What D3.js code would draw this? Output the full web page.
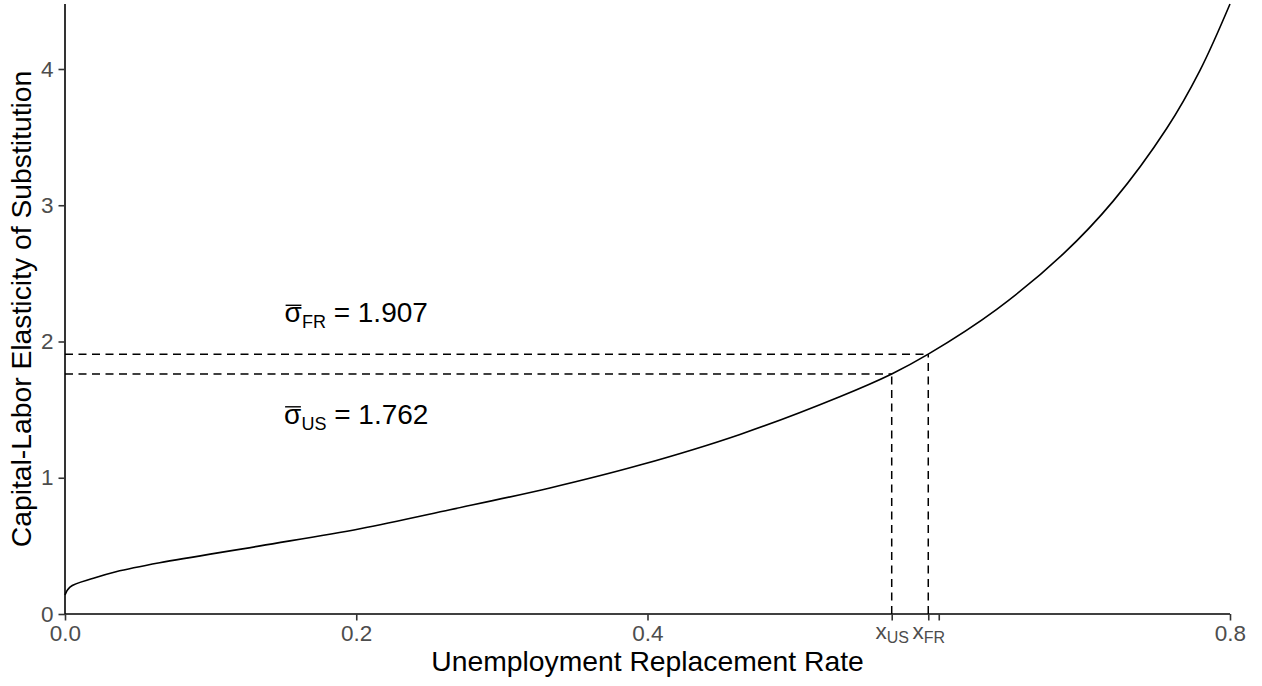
<!DOCTYPE html>
<html>
<head>
<meta charset="utf-8">
<script src="https://cdn.jsdelivr.net/npm/d3@7"></script>
<style>
  html, body { margin: 0; padding: 0; background: #ffffff; }
  svg { display: block; font-family: "Liberation Sans", Arial, sans-serif; }
</style>
</head>
<body>
<svg id="chart" width="1262" height="686"></svg>
<script>
// Elasticity of substitution as a function of the replacement rate
const rate  = [0, 0.0034, 0.0195, 0.035, 0.065, 0.134, 0.2026, 0.2644, 0.333, 0.3948, 0.4635, 0.532, 0.5677, 0.5928, 0.6398, 0.6855, 0.7199, 0.7565, 0.7794, 0.8];
const sigma = [0.14, 0.198, 0.262, 0.310, 0.376, 0.500, 0.626, 0.765, 0.925, 1.093, 1.318, 1.595, 1.762, 1.907, 2.236, 2.643, 3.032, 3.563, 3.99, 4.477];

// Country benchmarks
const countries = ["US", "FR"];
const countryRate  = [0.5677, 0.5928];
const countrySigma = [1.762, 1.907];
const labelOffset  = [-0.3, 0.3];

// Axis ticks
const xTicks = [0, 0.2, 0.4, 0.5677, 0.5928, 0.6, 0.8];
const xTickLabels = ["0.0", "0.2", "0.4", "x|US", "x|FR", "", "0.8"];
const yTicks = [0, 1, 2, 3, 4];

const svg = d3.select("#chart");
const x = d3.scaleLinear().domain([0, 0.8]).range([65, 1230]);
const y = d3.scaleLinear().domain([0, 4.477]).range([614, 4]);

// Dashed guides to each benchmark
const guides = svg.append("g")
  .attr("fill", "none").attr("stroke", "#000").attr("stroke-width", 1.5)
  .attr("stroke-dasharray", "8,5.5");
countries.forEach((c, i) => {
  guides.append("line")
    .attr("x1", x(0)).attr("x2", x(countryRate[i]))
    .attr("y1", y(countrySigma[i])).attr("y2", y(countrySigma[i]));
  guides.append("line")
    .attr("x1", x(countryRate[i])).attr("x2", x(countryRate[i]))
    .attr("y1", y(0)).attr("y2", y(countrySigma[i]));
});

// Curve
const pts = rate.map((r, i) => [r, sigma[i]]);
svg.append("path")
  .datum(pts)
  .attr("fill", "none").attr("stroke", "#000").attr("stroke-width", 1.6)
  .attr("d", d3.line().x(d => x(d[0])).y(d => y(d[1])).curve(d3.curveCatmullRom.alpha(0.5)));

// Axes
const xAxis = svg.append("g")
  .attr("transform", `translate(0,${y(0)})`)
  .call(d3.axisBottom(x).tickValues(xTicks).tickSize(6.5).tickPadding(5)
        .tickFormat((d, i) => xTickLabels[i]));
const yAxis = svg.append("g")
  .attr("transform", `translate(${x(0)},0)`)
  .call(d3.axisLeft(y).tickValues(yTicks).tickSize(6.5).tickPadding(5)
        .tickFormat(d3.format("d")));

[xAxis, yAxis].forEach(a => {
  a.select(".domain").attr("stroke", "#000").attr("stroke-width", 1.6);
  a.selectAll(".tick line").attr("stroke", "#333").attr("stroke-width", 1.6);
  a.selectAll(".tick text").attr("fill", "#4d4d4d").attr("font-size", 22.5)
    .attr("font-family", "Liberation Sans, Arial, sans-serif");
});
yAxis.select(".domain").attr("d", `M0,${y(0)}V${y.range()[1]}`);
xAxis.select(".domain").attr("d", `M${x(0)},0H${x(0.8)}`);

// Subscripted tick labels
xAxis.selectAll(".tick text").each(function (d, i) {
  const lab = xTickLabels[i];
  if (lab.indexOf("|") < 0) return;
  const [base, sub] = lab.split("|");
  const t = d3.select(this).text(null).attr("dy", null).attr("y", 25);
  t.append("tspan").text(base);
  t.append("tspan").attr("font-size", 16).attr("dy", 4).text(sub);
});

// Benchmark labels: sigma-bar with country subscript
countries.forEach((c, i) => {
  const base = y(countrySigma[i] + labelOffset[i]) + 9;
  const t = svg.append("text")
    .attr("x", x(0.2))
    .attr("y", base)
    .attr("text-anchor", "middle")
    .attr("font-size", 28)
    .attr("fill", "#000");
  t.append("tspan").text("σ");
  t.append("tspan").attr("font-size", 18).attr("dy", 6).text(c);
  t.append("tspan").attr("dy", -6).text(" = " + d3.format(".3f")(countrySigma[i]));
  const ext = t.node().getExtentOfChar(0);
  const top = base - 17;
  svg.append("line")
    .attr("x1", ext.x + 1).attr("x2", ext.x + ext.width - 0.5)
    .attr("y1", top).attr("y2", top)
    .attr("stroke", "#000").attr("stroke-width", 1.4);
});

// Axis titles
svg.append("text")
  .attr("x", (x(0) + x(0.8)) / 2).attr("y", 671)
  .attr("text-anchor", "middle").attr("font-size", 28.3).attr("fill", "#000")
  .text("Unemployment Replacement Rate");
svg.append("text")
  .attr("transform", `translate(31,${(y(0) + y.range()[1]) / 2}) rotate(-90)`)
  .attr("text-anchor", "middle").attr("font-size", 28.3).attr("fill", "#000")
  .text("Capital-Labor Elasticity of Substitution");
</script>
</body>
</html>
